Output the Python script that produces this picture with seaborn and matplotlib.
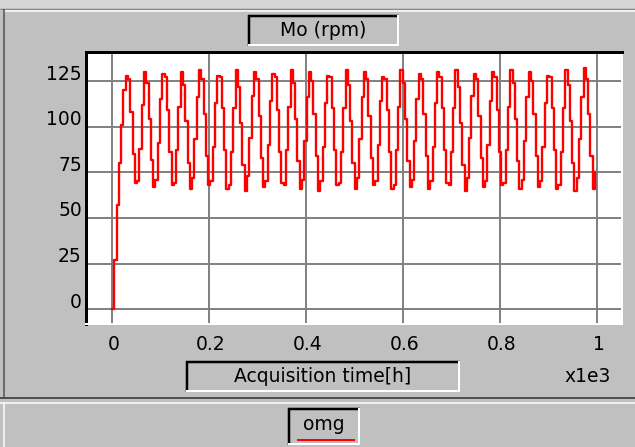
import numpy as np
import pandas as pd
import matplotlib
matplotlib.use("Agg")
import matplotlib.pyplot as plt
import matplotlib.transforms as mtransforms
from matplotlib.lines import Line2D
from matplotlib.patches import Rectangle
import seaborn as sns

# ---------------- data ----------------
sample_interval_h = 4.72          # acquisition step (hours)
omg_rpm = [
    0, 27, 57, 80, 101, 120,
    128, 126, 108, 85, 69, 70, 88, 112,
    130, 124, 104, 82, 67, 71, 91, 115,
    129, 127, 109, 86, 68, 69, 87, 111,
    130, 123, 103, 80, 66, 72, 93, 116,
    131, 126, 107, 84, 68, 70, 89, 113,
    128, 127, 110, 87, 66, 68, 86, 110,
    131, 122, 102, 79, 65, 73, 94, 117,
    130, 126, 106, 83, 67, 70, 90, 114,
    129, 127, 109, 86, 69, 68, 87, 111,
    131, 124, 104, 81, 66, 71, 92, 116,
    130, 125, 107, 84, 65, 70, 89, 113,
    128, 127, 110, 87, 68, 69, 86, 110,
    131, 123, 103, 80, 66, 72, 93, 116,
    130, 126, 106, 83, 68, 70, 90, 114,
    127, 126, 109, 86, 66, 68, 87, 111,
    131, 124, 104, 81, 67, 71, 92, 115,
    129, 126, 107, 84, 66, 70, 89, 113,
    130, 127, 110, 87, 69, 68, 86, 110,
    131, 122, 102, 79, 65, 72, 94, 117,
    129, 126, 106, 83, 67, 70, 90, 114,
    130, 127, 109, 86, 68, 69, 87, 111,
    131, 124, 104, 81, 66, 71, 92, 116,
    130, 125, 107, 84, 67, 70, 89, 113,
    128, 127, 110, 87, 66, 68, 86, 110,
    131, 123, 103, 80, 65, 72, 93, 116,
    132, 126, 107, 84, 66, 75,
]
time_h = np.arange(len(omg_rpm)) * sample_interval_h

x_ticks = [0, 0.2, 0.4, 0.6, 0.8, 1.0]
x_tick_labels = ["0", "0.2", "0.4", "0.6", "0.8", "1"]
y_ticks = [0, 25, 50, 75, 100, 125]
y_tick_labels = ["0", "25", "50", "75", "100", "125"]

title_text = "Mo (rpm)"
xlabel_text = "Acquisition time[h]"
xscale_text = "x1e3"
series_name = "omg"

# ---------------- figure ----------------
plt.rcParams["font.family"] = ["DejaVu Sans"]
W, H = 635, 447
BG = "#C0C0C0"
FS = 13.5
fig = plt.figure(figsize=(W / 100, H / 100), dpi=100, facecolor=BG)


def fx(x):
    return x / W


def fy(y):
    return 1 - y / H


def px(n):
    return n * 0.72


def line(xs, ys, color, lw):
    fig.add_artist(Line2D([fx(v) for v in xs], [fy(v) for v in ys],
                          color=color, lw=px(lw), transform=fig.transFigure,
                          solid_capstyle="butt"))


def sunken_box(x0, y0, x1, y1):
    line([x0, x1], [y0 + 1, y0 + 1], "black", 2.5)
    line([x0 + 1, x0 + 1], [y0, y1], "black", 2.5)
    line([x0, x1], [y1 - 1, y1 - 1], "white", 2)
    line([x1 - 1, x1 - 1], [y0, y1], "white", 2)


# window chrome
fig.add_artist(Rectangle((0, fy(8)), 1, 8 / H, transform=fig.transFigure,
                         facecolor="#D6D6D6", edgecolor="none"))
line([0, W], [8.5, 8.5], "#8A8A8A", 1)
line([4, W], [10.5, 10.5], "white", 1.5)
line([4, 4], [9, 398], "#505050", 1.5)
line([0, W], [398, 398], "#505050", 2)
line([0, W], [403, 403], "white", 1.5)
line([4, 4], [403, H], "white", 1.5)

# ---------------- axes ----------------
l, r, t, b = 86, 622, 52, 324
ax = fig.add_axes([fx(l), fy(b), fx(r) - fx(l), fy(t) - fy(b)])
ax.set_facecolor("white")

df = pd.DataFrame({"t": time_h / 1000.0, "omg": omg_rpm})
sns.lineplot(data=df, x="t", y="omg", ax=ax, color="#FF0000", lw=1.7,
             drawstyle="steps-post", estimator=None, sort=False, legend=False)

ax.set_xlim(-0.0536, 1.0515)
ax.set_ylim(-8.05, 140.9)
ax.set_xticks(x_ticks)
ax.set_xticklabels(x_tick_labels)
ax.set_yticks(y_ticks)
ax.set_yticklabels(y_tick_labels)
ax.grid(True, color="#808080", lw=1.4)
ax.set_axisbelow(True)
ax.set_xlabel("")
ax.set_ylabel("")
ax.tick_params(axis="both", length=0, labelsize=FS, colors="black")
ax.tick_params(axis="x", pad=8)
ax.tick_params(axis="y", pad=3)

for s in ("top", "left"):
    ax.spines[s].set_color("black")
    ax.spines[s].set_linewidth(px(3))
for s in ("bottom", "right"):
    ax.spines[s].set_color("white")
    ax.spines[s].set_linewidth(px(2))

yoff = mtransforms.ScaledTranslation(0, 9 / 100, fig.dpi_scale_trans)
for lab in ax.get_yticklabels():
    lab.set_transform(lab.get_transform() + yoff)
xoff = mtransforms.ScaledTranslation(2 / 100, 0, fig.dpi_scale_trans)
for lab in ax.get_xticklabels():
    lab.set_transform(lab.get_transform() + xoff)

# ---------------- text boxes ----------------
sunken_box(248, 15, 399, 46)
fig.text(fx(323), fy(31), title_text, ha="center", va="center", fontsize=FS)

sunken_box(186, 361, 460, 392)
fig.text(fx(323), fy(377), xlabel_text, ha="center", va="center", fontsize=FS)
fig.text(fx(588), fy(377), xscale_text, ha="center", va="center", fontsize=FS)

sunken_box(288, 408, 360, 445)
fig.text(fx(324), fy(425), series_name, ha="center", va="center", fontsize=FS)
line([297, 355], [440, 440], "#FF0000", 2)

fig.savefig("out.png", dpi=100, facecolor=BG)
